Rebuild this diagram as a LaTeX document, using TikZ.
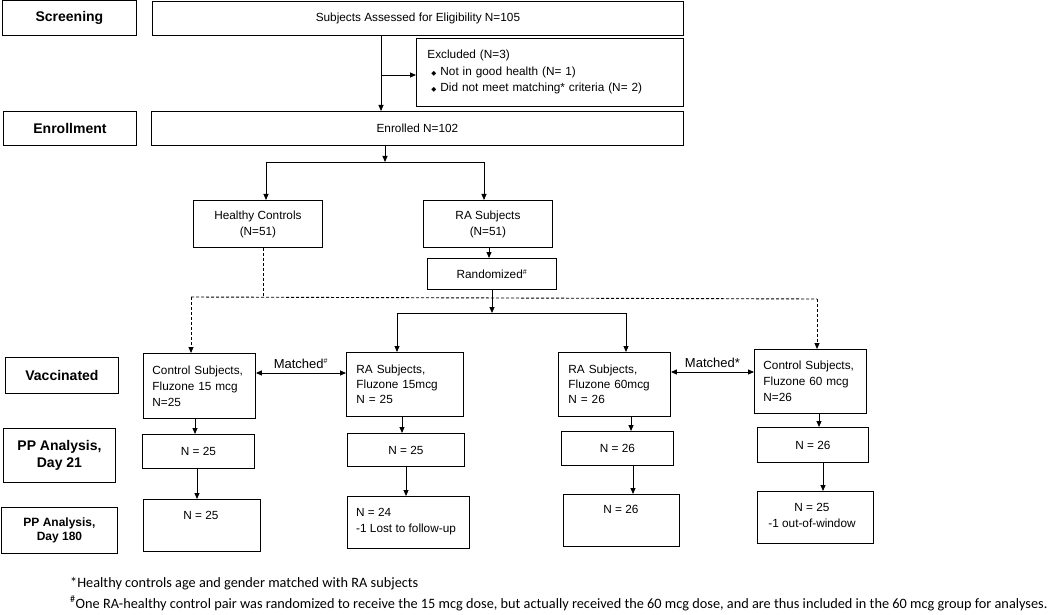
\documentclass[tikz,border=0pt]{standalone}
\usepackage{fontspec}
\setmainfont{Liberation Sans}
\newfontfamily\fnfont{Carlito}
\newfontfamily\dejavu{DejaVu Sans}
\usetikzlibrary{arrows.meta}
\newcommand\mybul{{\fontsize{6.5}{6.5}\selectfont\dejavu ◆}}
\begin{document}
\begin{tikzpicture}[x=1pt,y=-1pt,
  box/.style={draw=black, line width=0.9pt, rectangle, inner sep=0pt, anchor=north west,
    font=\fontsize{11.8}{16}\selectfont},
  lbl/.style={box, font=\fontsize{14}{17}\selectfont\bfseries, align=center},
  txt/.style={inner sep=0pt, font=\fontsize{11.8}{16}\selectfont},
  ln/.style={line width=0.9pt},
  arr/.style={ln, -{Triangle[length=6pt,width=5pt]}},
  darr/.style={ln, dash pattern=on 3pt off 2pt, -{Triangle[length=6pt,width=5pt]}},
  dsh/.style={ln, dash pattern=on 3pt off 2pt},
  fn/.style={inner sep=0pt, anchor=base west, font=\fnfont\fontsize{14.3}{16}\selectfont},
]
\useasboundingbox (0,0) rectangle (1050,615);

% ---- rows: screening & enrollment
\node[lbl, minimum width=134pt, minimum height=35pt] (scr) at (2,0) {Screening};
\node[box, minimum width=531pt, minimum height=34pt] (assess) at (152,1) {Subjects Assessed for Eligibility N=105};
\node[box, minimum width=267pt, minimum height=68pt, align=left, text width=245pt, inner xsep=11pt, font=\fontsize{11.8}{16.5}\selectfont] (excl) at (416,38)
  {Excluded (N=3)\\\hspace{4pt}\mybul\hspace{4pt}Not in good health (N= 1)\\\hspace{4pt}\mybul\hspace{4pt}Did not meet matching* criteria (N= 2)};
\node[lbl, minimum width=133pt, minimum height=34pt] (enrl) at (3,111) {Enrollment};
\node[box, minimum width=532pt, minimum height=34pt] (enr) at (151,111) {Enrolled N=102};

% ---- groups
\node[box, minimum width=129pt, minimum height=47pt, align=center] (hc) at (193,200) {Healthy Controls\\(N=51)};
\node[box, minimum width=129pt, minimum height=47pt, align=center] (ra) at (423,200) {RA Subjects\\(N=51)};
\node[box, minimum width=129pt, minimum height=31pt] (rand) at (427,258) {Randomized\textsuperscript{\fontsize{7}{7}\selectfont\#}};

% ---- vaccinated
\node[lbl, minimum width=113pt, minimum height=36pt] (vac) at (5,357) {Vaccinated};
\node[box, minimum width=112pt, minimum height=65pt, align=left, text width=94pt, inner xsep=9pt] (c15) at (143,353) {Control Subjects,\\Fluzone 15 mcg\\N=25};
\node[box, minimum width=117pt, minimum height=64pt, align=left, text width=97pt, inner xsep=10pt, font=\fontsize{11.8}{15}\selectfont] (r15) at (346,352) {RA Subjects,\\Fluzone 15mcg\\N = 25};
\node[box, minimum width=112pt, minimum height=64pt, align=left, text width=92pt, inner xsep=10pt, font=\fontsize{11.8}{15}\selectfont] (r60) at (558,352) {RA Subjects,\\Fluzone 60mcg\\N = 26};
\node[box, minimum width=112pt, minimum height=64pt, align=left, text width=94pt, inner xsep=9pt] (c60) at (754,349) {Control Subjects,\\Fluzone 60 mcg\\N=26};

% ---- day 21
\node[lbl, minimum width=112pt, minimum height=54pt] (d21) at (3,428) {PP Analysis,\\Day 21};
\node[box, minimum width=112pt, minimum height=34pt] (c21) at (142,434) {N = 25};
\node[box, minimum width=117pt, minimum height=33pt] (r21) at (347,433) {N = 25};
\node[box, minimum width=112pt, minimum height=34pt] (r6021) at (561,431) {N = 26};
\node[box, minimum width=111pt, minimum height=35pt] (c6021) at (757,427) {N = 26};

% ---- day 180
\node[lbl, minimum width=116pt, minimum height=46pt, font=\fontsize{12}{14}\selectfont\bfseries] (d180) at (1,507) {PP Analysis,\\Day 180};
\node[box, minimum width=117pt, minimum height=52pt] (c180) at (143,499) {};
\node[box, minimum width=122pt, minimum height=52pt] (r180) at (347,496) {};
\node[box, minimum width=116pt, minimum height=52pt] (r60180) at (563,494) {};
\node[box, minimum width=116pt, minimum height=52pt] (c60180) at (757,491) {};
\node[txt, anchor=north] (c180t) at (201,511) {N = 25};
\node[txt, anchor=north west, align=left] (r180t) at (356,508) {N = 24\\-1 Lost to follow-up};
\node[txt, anchor=north] (r60180t) at (621,505) {N = 26};
\node[txt, anchor=north, align=center] (c60180t) at (812,503) {N = 25\\-1 out-of-window};

% ---- connectors: top
\coordinate (v1) at (381,0);
\draw[arr] (assess.south -| v1) -- (enr.north -| v1);
\coordinate (ex) at (381,75);
\draw[arr] (ex) -- (ex -| excl.west);
\coordinate (s1) at (385,162);
\coordinate (hcx) at (266,162);
\coordinate (rax) at (484,162);
\draw[arr] (enr.south -| s1) -- (s1);
\draw[ln] (hcx) -- (rax);
\draw[arr] (hcx) -- (hcx |- hc.north);
\draw[arr] (rax) -- (rax |- ra.north);
\coordinate (rr) at (489,0);
\draw[arr] (ra.south -| rr) -- (rand.north -| rr);

% ---- randomization split
\coordinate (s2) at (492,313);
\coordinate (l2) at (397,313);
\coordinate (r2) at (626,313);
\draw[arr] (rand.south -| s2) -- (s2);
\draw[ln] (l2) -- (r2);
\draw[arr] (l2) -- (l2 |- r15.north);
\draw[arr] (r2) -- (r2 |- r60.north);

% ---- dashed controls
\coordinate (d0) at (263,297);
\coordinate (dl) at (191,297);
\coordinate (dr) at (817,299);
\draw[dsh] (hc.south -| d0) -- (d0);
\draw[dsh] (dl) -- (dr);
\draw[darr] (dl) -- (dl |- c15.north);
\draw[darr] (dr) -- (dr |- c60.north);

% ---- matched
\coordinate (m1) at (0,373);
\coordinate (m2) at (0,372);
\draw[ln, {Triangle[length=6pt,width=5pt]}-{Triangle[length=6pt,width=5pt]}] (c15.east |- m1) -- node[inner sep=0pt, anchor=base, yshift=5pt, font=\fontsize{13}{13}\selectfont] (mt1) {Matched\textsuperscript{\fontsize{7}{7}\selectfont\#}} (r15.west |- m1);
\draw[ln, {Triangle[length=6pt,width=5pt]}-{Triangle[length=6pt,width=5pt]}] (r60.east |- m2) -- node[inner sep=0pt, anchor=base, yshift=5pt, font=\fontsize{13}{13}\selectfont] (mt2) {Matched*} (c60.west |- m2);

% ---- vertical flows
\coordinate (a1) at (195,0); \coordinate (a2) at (197,0);
\coordinate (b1) at (402,0); \coordinate (b2) at (406,0);
\coordinate (e1) at (631,0); \coordinate (e2) at (633,0);
\coordinate (f1) at (819,0); \coordinate (f2) at (823,0);
\draw[arr] (c15.south -| a1) -- (c21.north -| a1);
\draw[arr] (c21.south -| a2) -- (c180.north -| a2);
\draw[arr] (r15.south -| b1) -- (r21.north -| b1);
\draw[arr] (r21.south -| b2) -- (r180.north -| b2);
\draw[arr] (r60.south -| e1) -- (r6021.north -| e1);
\draw[arr] (r6021.south -| e2) -- (r60180.north -| e2);
\draw[arr] (c60.south -| f1) -- (c6021.north -| f1);
\draw[arr] (c6021.south -| f2) -- (c60180.north -| f2);

% ---- footnotes
\node[fn] (fn1) at (70,587) {*Healthy controls age and gender matched with RA subjects};
\node[fn] (fn2) at (70,608) {\textsuperscript{\#}One RA-healthy control pair was randomized to receive the 15 mcg dose, but actually received the 60 mcg dose, and are thus included in the 60 mcg group for analyses.};
\end{tikzpicture}
\end{document}
